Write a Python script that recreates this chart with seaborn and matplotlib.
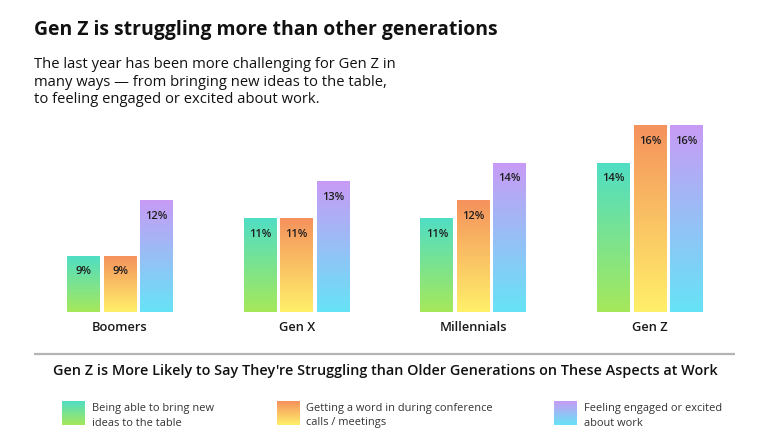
import numpy as np
import pandas as pd
import matplotlib
matplotlib.use("Agg")
import matplotlib.pyplot as plt
import seaborn as sns
from matplotlib.colors import LinearSegmentedColormap, to_rgba

# ---------------- data ----------------
generations = ["Boomers", "Gen X", "Millennials", "Gen Z"]
series = [
    "Being able to bring new ideas to the table",
    "Getting a word in during conference calls / meetings",
    "Feeling engaged or excited about work",
]
legend_labels = [
    "Being able to bring new\nideas to the table",
    "Getting a word in during conference\ncalls / meetings",
    "Feeling engaged or excited\nabout work",
]
ideas = [9, 11, 11, 14]
word = [9, 11, 12, 16]
engaged = [12, 13, 14, 16]

title = "Gen Z is struggling more than other generations"
subtitle_lines = [
    "The last year has been more challenging for Gen Z in",
    "many ways \u2014 from bringing new ideas to the table,",
    "to feeling engaged or excited about work.",
]
legend_title = "Gen Z is More Likely to Say They're Struggling than Older Generations on These Aspects at Work"

top_colors = ["#50dec4", "#f5925d", "#c89bf5"]
bottom_colors = ["#a6e85b", "#fff06a", "#66e3f7"]

# ---------------- setup ----------------
sns.set_theme(style="white")
plt.rcParams["font.family"] = ["Open Sans", "DejaVu Sans"]

df = pd.DataFrame({
    "generation": generations * 3,
    "series": [series[0]] * 4 + [series[1]] * 4 + [series[2]] * 4,
    "value": ideas + word + engaged,
})

fig = plt.figure(figsize=(7.74, 4.41), dpi=100)
fig.patch.set_facecolor("white")
ax = fig.add_axes([0.0411, 0.2932, 0.9127, 0.464])
renderer = fig.canvas.get_renderer()


def fit(t, width):
    bb = t.get_window_extent(renderer)
    t.set_fontsize(t.get_fontsize() * width / bb.width)
    return t.get_fontsize()


sns.barplot(data=df, x="generation", y="value", hue="series", order=generations,
            hue_order=series, palette=top_colors, saturation=1, width=0.62, gap=0.1,
            errorbar=None, legend=False, ax=ax)

ymin, ymax = 6, 17
ax.set_xlim(-0.5, 3.5)
ax.set_ylim(ymin, ymax)
cmaps = [LinearSegmentedColormap.from_list(f"g{i}", [bottom_colors[i], top_colors[i]])
         for i in range(3)]
grad = np.linspace(0, 1, 256).reshape(-1, 1)

vfs = None
for p in list(ax.patches):
    fc = p.get_facecolor()
    idx = int(np.argmin([np.sum(np.abs(np.array(fc) - np.array(to_rgba(c)))) for c in top_colors]))
    x, w, h = p.get_x(), p.get_width(), p.get_height()
    ax.imshow(grad, extent=[x, x + w, ymin, h], origin="lower", aspect="auto",
              cmap=cmaps[idx], interpolation="bicubic", zorder=2)
    p.set_facecolor("none")
    p.set_edgecolor("none")
    a = ax.annotate(f"{int(round(h))}%", xy=(x + w / 2, h), xytext=(0, -11.5),
                    textcoords="offset points", ha="center", va="center",
                    fontsize=8.2, color="#1e1e1e", fontweight="semibold", zorder=3)
    if vfs is None:
        ax.set_xlim(-0.5, 3.5)
        ax.set_ylim(ymin, ymax)
        vfs = fit(a, 21 if int(round(h)) >= 10 else 16)
    else:
        a.set_fontsize(vfs)

ax.set_xlim(-0.5, 3.5)
ax.set_ylim(ymin, ymax)
for s in ax.spines.values():
    s.set_visible(False)
ax.set_yticks([])
ax.set_xlabel("")
ax.set_ylabel("")
ax.tick_params(axis="x", length=0, pad=7)
for lab in ax.get_xticklabels():
    lab.set_fontsize(9.3)
    lab.set_fontweight("semibold")
    lab.set_color("#1a1a1a")
ax.set_facecolor("none")

# ---------------- overlay (titles + legend) ----------------
ov = fig.add_axes([0, 0, 1, 1], zorder=5)
ov.set_xlim(0, 774)
ov.set_ylim(441, 0)
ov.axis("off")
ov.patch.set_alpha(0)

t = ov.text(34, 35, title, fontsize=13, fontweight="bold", color="#111111",
            ha="left", va="baseline")
fit(t, 459)

sub_y = [68, 85.5, 103]
t0 = ov.text(34, sub_y[0], subtitle_lines[0], fontsize=10, color="#111111",
             ha="left", va="baseline")
fs = fit(t0, 360)
for line, y in zip(subtitle_lines[1:], sub_y[1:]):
    ov.text(34, y, line, fontsize=fs, color="#111111", ha="left", va="baseline")

ov.plot([34, 735], [354, 354], color="#b4b4b4", lw=1.6, solid_capstyle="butt")

lt = ov.text(385.5, 375, legend_title, fontsize=10, fontweight="semibold",
             color="#111111", ha="center", va="baseline")
fit(lt, 665)

sw_x = [61.7, 276.5, 553.5]
tx_x = [92.5, 306.5, 583.5]
lfs = None
for i in range(3):
    ov.imshow(grad, extent=[sw_x[i], sw_x[i] + 22.6, 425, 401.7], origin="lower",
              aspect="auto", cmap=cmaps[i], interpolation="bicubic", zorder=2)
    l1, l2 = legend_labels[i].split("\n")
    a = ov.text(tx_x[i], 411, l1, fontsize=8, color="#333333", ha="left", va="baseline")
    if lfs is None:
        lfs = fit(a, 121)
    else:
        a.set_fontsize(lfs)
    ov.text(tx_x[i], 425.5, l2, fontsize=lfs, color="#333333", ha="left", va="baseline")

ov.set_xlim(0, 774)
ov.set_ylim(441, 0)

fig.savefig("out.png", dpi=100, facecolor="white")
